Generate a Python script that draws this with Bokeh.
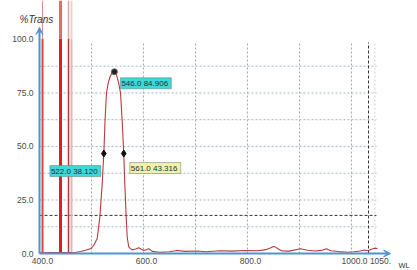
from bokeh.plotting import figure
from bokeh.models import Range1d, Label, Arrow, VeeHead
from bokeh.embed import file_html
from bokeh.resources import INLINE
from bokeh.core.properties import value

# ---------------- data ----------------
WL = [400, 410, 420, 430, 440, 450, 460, 470, 479, 490, 498, 504, 511, 516, 520.6, 523.7,
      526, 528.8, 532, 536, 540, 544, 548, 552, 555.8, 559, 562, 564, 566.7, 568.7, 571.7,
      578, 585, 591, 596, 600.6, 605, 610, 616.7, 630, 650, 665, 680, 703, 720, 748, 770,
      796, 820, 835, 844, 850, 854, 860, 867, 880, 902, 915, 930, 945, 952, 960, 975, 992,
      1005, 1017, 1025, 1032, 1038, 1045, 1050]
TRANS = [0.4, 0.3, 0.5, 0.4, 0.5, 0.4, 0.5, 0.6, 0.9, 1.6, 2.2, 3.7, 7.0, 17.0, 32.7, 46.7,
         62.0, 75.0, 79.5, 82.8, 84.5, 84.9, 83.6, 79.8, 75.0, 62.0, 46.7, 32.7, 17.0, 7.6, 3.0,
         1.7, 2.1, 2.7, 2.0, 1.4, 1.8, 2.2, 1.0, 0.6, 0.8, 1.4, 1.0, 1.2, 0.8, 1.3, 1.1,
         1.4, 1.3, 1.8, 2.6, 3.3, 3.0, 2.0, 1.2, 1.1, 2.2, 1.5, 1.2, 1.6, 2.2, 1.3, 0.9, 0.6,
         0.8, 1.2, 1.6, 1.3, 2.0, 2.5, 2.3]

X_TICKS = [400, 600, 800, 1000, 1050]
X_TICK_LABELS = ["400.0", "600.0", "800.0", "1000.0", "1050."]
Y_TICKS = [0, 25, 50, 75, 100]
Y_TICK_LABELS = ["0.0", "25.0", "50.0", "75.0", "100.0"]

GRID_X = [500, 600, 700, 800, 900, 1000]
GRID_Y = [12.5, 25, 37.5, 50, 62.5, 75, 87.5]
GRID_TOP = 98.6
GRID_RIGHT = 1048
CURSOR_X = 1032.7
CURSOR_Y = 17.8

# reference lines (nm)
REF_X = [405.8, 440.4, 455.8, 461.5]
REF_COL = ["#e2463a", "#d82222", "#a83a3a", "#efb2aa"]
REF_COL_UP = ["#d89090", "#e46a6a", "#d4a8a8", "#f3cfc8"]
REF_TOP = 118.2

PEAK = (544.0, 84.9, "546.0  84.906")
HALF_L = (523.7, 46.7, "522.0  38.120")
HALF_R = (562.0, 46.7, "561.0  43.316")

Y_AXIS_END = 105.6
X_AXIS_END = 1075

# ---------------- figure ----------------
p = figure(width=417, height=270, x_range=Range1d(325.0, 1126.9), y_range=Range1d(-7.94, 118.2),
           output_backend="svg", toolbar_location=None,
           x_axis_location=None, y_axis_location=None,
           min_border_left=0, min_border_right=0, min_border_top=0, min_border_bottom=0)
p.xgrid.visible = False
p.ygrid.visible = False
p.outline_line_color = None
p.background_fill_color = "white"
p.border_fill_color = "white"

FONT = value("Liberation Sans")

# grid
p.segment(x0=GRID_X, y0=[0] * len(GRID_X), x1=GRID_X, y1=[GRID_TOP] * len(GRID_X),
          line_color="#a4a8ac", line_dash="2 2", line_width=1)
p.segment(x0=[400] * len(GRID_Y), y0=GRID_Y, x1=[GRID_RIGHT] * len(GRID_Y), y1=GRID_Y,
          line_color="#a2b6c6", line_dash="2 2", line_width=1)
p.segment(x0=[GRID_RIGHT - 3], y0=[0], x1=[GRID_RIGHT - 3], y1=[GRID_TOP],
          line_color="#d0d0d0", line_dash="2 2", line_width=1)
p.segment(x0=[CURSOR_X], y0=[0], x1=[CURSOR_X], y1=[GRID_TOP],
          line_color="#333333", line_dash="3 2", line_width=1)
p.segment(x0=[400], y0=[CURSOR_Y], x1=[GRID_RIGHT], y1=[CURSOR_Y],
          line_color="#333333", line_dash="3 2", line_width=1)

# reference vertical lines
p.segment(x0=REF_X, y0=[0] * 4, x1=REF_X, y1=[100.5] * 4, line_color=REF_COL,
          line_width=[2, 3, 1.5, 2])
p.segment(x0=REF_X, y0=[100.5] * 4, x1=REF_X, y1=[REF_TOP] * 4, line_color=REF_COL_UP,
          line_width=[1, 3, 1.5, 2])

# spectrum
p.line(WL, TRANS, line_color="#b83a3a", line_width=1.1)

# axes with arrows
ax_col = "#4f93d2"
p.add_layout(Arrow(end=VeeHead(size=7, line_color=ax_col, fill_color=ax_col, line_width=1),
                   x_start=400, y_start=0, x_end=400, y_end=Y_AXIS_END,
                   line_color=ax_col, line_width=2))
p.add_layout(Arrow(end=VeeHead(size=7, line_color=ax_col, fill_color=ax_col, line_width=1),
                   x_start=400, y_start=0, x_end=X_AXIS_END, y_end=0,
                   line_color=ax_col, line_width=2))

# tick labels (placed through the plot scales)
p.text(x=X_TICKS, y=[0] * len(X_TICKS), text=X_TICK_LABELS, x_offset=3, y_offset=4,
       text_align="center", text_baseline="top", text_font=FONT,
       text_font_size="8.5px", text_color="#4a4a4a")
p.text(x=[400] * len(Y_TICKS), y=Y_TICKS, text=Y_TICK_LABELS, x_offset=-6,
       text_align="right", text_baseline="middle", text_font=FONT,
       text_font_size="8.5px", text_color="#4a4a4a")

# markers
p.scatter([HALF_L[0], HALF_R[0]], [HALF_L[1], HALF_R[1]], marker="diamond", size=7,
          color="#111111")
p.scatter([PEAK[0]], [PEAK[1]], marker="circle", size=6, fill_color="#222222",
          line_color="#666666")

def tag(pt, bg, align, xo, yo):
    p.add_layout(Label(x=pt[0], y=pt[1], text=pt[2], x_offset=xo, y_offset=yo,
                       text_align=align, text_baseline="top",
                       text_font="Liberation Sans", text_font_size="8px",
                       text_color="#1e3040", background_fill_color=bg,
                       border_line_color="#5a7a7a", border_line_width=0.5,
                       padding=1))

tag(PEAK, "#3fd8d8", "left", 6, -6)
tag(HALF_L, "#3fd8d8", "right", -3, -12)
tag(HALF_R, "#f2f2a6", "left", 6, -9)

# axis titles
p.text(x=[400], y=[109.1], text=["%Trans"], x_offset=-20, text_align="left",
       text_baseline="middle", text_font=FONT, text_font_style="italic",
       text_font_size="10px", text_color="#333333")
p.text(x=[X_AXIS_END], y=[0], text=["WL"], x_offset=8, y_offset=12, text_align="left",
       text_baseline="middle", text_font=FONT, text_font_size="7.5px", text_color="#333333")

open("out.html", "w").write(file_html(p, INLINE))
